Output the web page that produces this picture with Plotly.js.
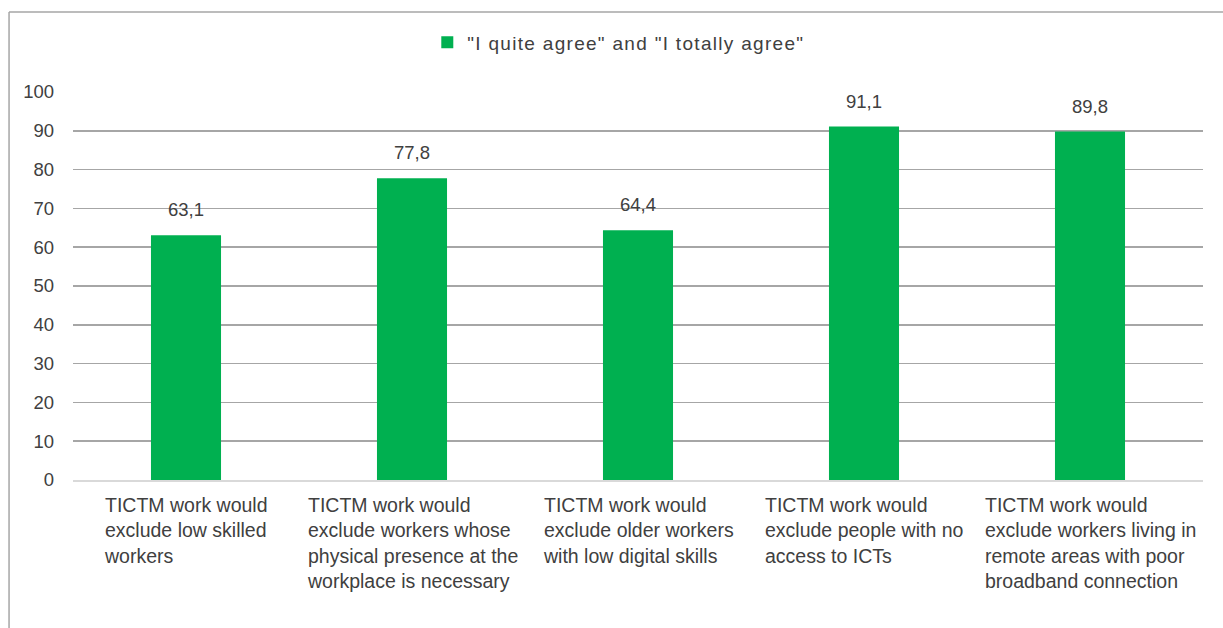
<!DOCTYPE html>
<html>
<head>
<meta charset="utf-8">
<script src="https://cdn.plot.ly/plotly-3.0.1.min.js"></script>
<style>
  html, body { margin: 0; padding: 0; background: #ffffff; }
  #chart { width: 1223px; height: 628px; }
  text.legendtext { letter-spacing: 1.3px; }
</style>
</head>
<body>
<div id="chart"></div>
<script>
const categories = [
  "TICTM work would<br>exclude low skilled<br>workers",
  "TICTM work would<br>exclude workers whose<br>physical presence at the<br>workplace is necessary",
  "TICTM work would<br>exclude older workers<br>with low digital skills",
  "TICTM work would<br>exclude people with no<br>access to ICTs",
  "TICTM work would<br>exclude workers living in<br>remote areas with poor<br>broadband connection"
];
const seriesName = '"I quite agree" and "I totally agree"';
const values = [63.1, 77.8, 64.4, 91.1, 89.8];
const yTicks = [0, 10, 20, 30, 40, 50, 60, 70, 80, 90, 100];

const FONT = "Liberation Sans, Arial, sans-serif";
const TEXT = "#404040";
const FS = 18.5;
const xIdx = categories.map((c, i) => i);

const trace = {
  type: "bar",
  x: xIdx,
  y: values,
  name: seriesName,
  marker: { color: "#00B050", line: { width: 0 } },
  width: 0.31,
  hoverinfo: "skip"
};

const annotations = [];
categories.forEach((c, i) => {
  annotations.push({
    x: i, xref: "x", y: 0, yref: "paper",
    xanchor: "center", yanchor: "top", yshift: -12,
    text: c, align: "left", showarrow: false,
    font: { family: FONT, size: 19.5, color: TEXT }
  });
});
values.forEach((v, i) => {
  annotations.push({
    x: i, xref: "x", y: v, yref: "y",
    xanchor: "center", yanchor: "bottom", yshift: 13,
    text: v.toFixed(1).replace(".", ","), showarrow: false,
    font: { family: FONT, size: FS, color: TEXT }
  });
});

const layout = {
  width: 1223, height: 628,
  margin: { l: 73, r: 20, t: 92, b: 148, pad: 0 },
  paper_bgcolor: "#ffffff", plot_bgcolor: "#ffffff",
  font: { family: FONT, size: FS, color: TEXT },
  showlegend: true,
  legend: {
    orientation: "h", x: 0.483, xanchor: "center", y: 1.128, yanchor: "middle",
    font: { family: FONT, size: 19, color: TEXT }, bgcolor: "rgba(0,0,0,0)"
  },
  xaxis: {
    range: [-0.5, 4.5], showticklabels: false, showgrid: false, zeroline: false,
    showline: true, linecolor: "#d9d9d9", linewidth: 1.5, ticks: "", fixedrange: true
  },
  yaxis: {
    range: [0, 100], tickvals: yTicks, ticktext: yTicks.map(String),
    showgrid: true, gridcolor: "#a6a6a6", gridwidth: 1.5,
    zeroline: false, showline: false, ticks: "", ticklabelstandoff: 18,
    tickfont: { family: FONT, size: FS, color: TEXT }, fixedrange: true
  },
  annotations: annotations,
  shapes: [
    { type: "line", xref: "paper", yref: "paper", x0: -0.0566, x1: -0.0566, y0: 1.206, y1: -0.5,
      line: { color: "#a6a6a6", width: 1.5 } },
    { type: "line", xref: "paper", yref: "paper", x0: -0.0566, x1: 1.1, y0: 1.206, y1: 1.206,
      line: { color: "#a6a6a6", width: 1.5 } }
  ]
};

Plotly.newPlot("chart", [trace], layout, { displayModeBar: false, staticPlot: true });
</script>
</body>
</html>
